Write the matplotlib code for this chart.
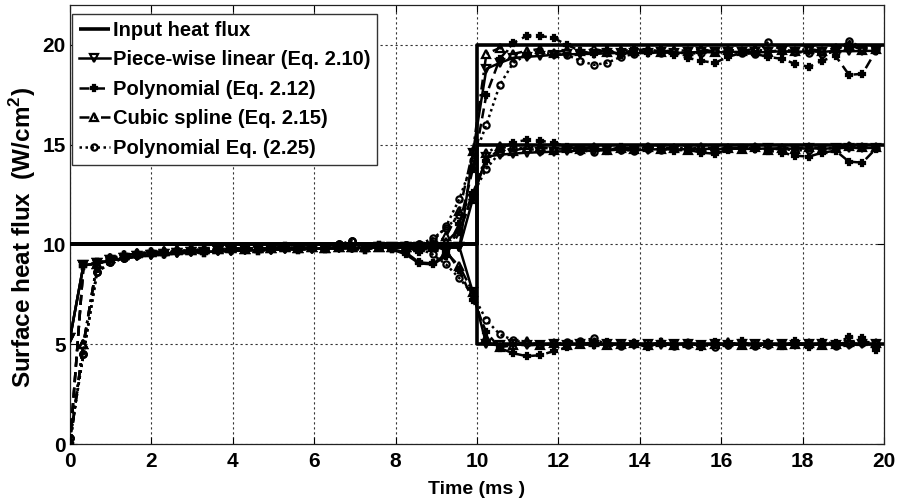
import numpy as np
import matplotlib
matplotlib.use("Agg")
import matplotlib.pyplot as plt

plt.rcParams["font.family"] = ["Liberation Sans", "DejaVu Sans"]
plt.rcParams["font.weight"] = "bold"
plt.rcParams["mathtext.fontset"] = "custom"
plt.rcParams["mathtext.rm"] = "Liberation Sans:bold"
plt.rcParams["mathtext.bf"] = "Liberation Sans:bold"

# Sampling grid of the estimates (ms); the first 25 samples are shared by all cases
t_ms = np.round(np.arange(61) * 0.33, 2)
n_shared = 25

# Imposed surface heat flux: 10 W/cm^2, then a step at 10 ms
step_time = 10.0
end_time = 20.0
base_flux = 10.0
step_levels = [5.0, 15.0, 20.0]

# Piece-wise linear (Eq. 2.10)
pwl_shared = [5.3, 8.95, 9.05, 9.2, 9.3, 9.4, 9.45, 9.5, 9.55, 9.6, 9.62, 9.65, 9.68,
              9.7, 9.72, 9.73, 9.75, 9.76, 9.78, 9.8, 9.8, 9.82, 9.83, 9.85, 9.85]
pwl_to5 = [9.85, 9.85, 9.85, 9.85, 9.85, 7.6, 5.0, 4.95, 5.0, 4.95, 4.97, 5.0, 4.98,
           5.0, 4.97, 5.0, 5.02, 4.98, 5.0, 4.97, 5.0, 5.02, 4.98, 5.0, 4.97, 5.0,
           5.0, 4.98, 5.0, 4.97, 5.0, 5.02, 4.98, 4.95, 5.0, 5.0]
pwl_to15 = [9.85, 9.85, 9.85, 9.85, 9.85, 12.3, 14.4, 14.5, 14.55, 14.6, 14.62, 14.65,
            14.68, 14.7, 14.7, 14.72, 14.75, 14.72, 14.75, 14.78, 14.75, 14.78, 14.8,
            14.78, 14.8, 14.8, 14.78, 14.82, 14.8, 14.8, 14.82, 14.8, 14.82, 14.85,
            14.82, 14.85]
pwl_to20 = [9.85, 9.85, 9.85, 9.85, 9.85, 14.6, 18.8, 19.1, 19.35, 19.4, 19.45, 19.5,
            19.52, 19.55, 19.55, 19.58, 19.6, 19.58, 19.6, 19.62, 19.6, 19.62, 19.65,
            19.62, 19.65, 19.65, 19.62, 19.65, 19.68, 19.65, 19.68, 19.65, 19.7,
            19.68, 19.7, 19.7]

# Polynomial (Eq. 2.12)
p212_shared = [0.0, 8.9, 9.1, 9.3, 9.45, 9.5, 9.6, 9.5, 9.65, 9.7, 9.55, 9.75, 9.7,
               9.85, 9.65, 9.8, 9.9, 9.7, 9.85, 9.75, 9.9, 9.8, 9.7, 9.95, 9.75]
p212_to5 = [9.9, 9.6, 9.95, 9.7, 8.7, 7.2, 5.6, 4.8, 4.55, 4.4, 4.45, 4.65, 4.85, 5.05,
            4.95, 5.1, 4.9, 5.05, 4.85, 5.1, 4.95, 5.05, 4.85, 5.1, 4.95, 5.15, 4.9,
            5.05, 4.9, 5.15, 4.85, 5.1, 5.05, 5.35, 5.3, 4.7]
p212_to15 = [9.6, 9.1, 9.05, 9.5, 10.6, 12.6, 14.2, 14.8, 15.1, 15.25, 15.2, 15.1, 14.9,
             14.75, 14.85, 14.7, 14.9, 14.75, 14.9, 14.8, 14.7, 14.75, 14.6, 14.55,
             14.75, 14.85, 14.8, 14.7, 14.6, 14.45, 14.4, 14.6, 14.7, 14.15, 14.1, 14.8]
p212_to20 = [9.5, 9.05, 9.0, 9.4, 11.0, 13.8, 17.5, 19.3, 20.1, 20.45, 20.45, 20.35,
             20.0, 19.7, 19.55, 19.75, 19.5, 19.8, 19.6, 19.75, 19.5, 19.35, 19.2, 19.1,
             19.4, 19.6, 19.55, 19.4, 19.3, 19.05, 18.9, 19.2, 19.45, 18.5, 18.55, 19.7]

# Cubic spline (Eq. 2.15)
cs_shared = [0.0, 5.0, 9.0, 9.3, 9.45, 9.55, 9.6, 9.65, 9.7, 9.7, 9.75, 9.75, 9.8,
             9.78, 9.82, 9.8, 9.85, 9.82, 9.85, 9.83, 9.87, 9.85, 9.87, 9.85, 9.88]
cs_to5 = [9.87, 9.88, 9.85, 9.6, 8.9, 7.6, 5.3, 4.85, 4.95, 5.15, 4.95, 5.05, 4.95, 5.0,
          5.1, 4.95, 5.0, 5.05, 4.95, 5.1, 4.95, 5.05, 4.97, 5.0, 5.1, 4.95, 5.0, 5.05,
          4.95, 5.0, 5.05, 4.97, 5.0, 5.1, 5.15, 5.05]
cs_to15 = [9.87, 9.88, 9.9, 10.1, 10.8, 12.3, 14.6, 14.95, 14.7, 14.85, 14.9, 14.75,
           14.85, 14.8, 14.9, 14.75, 14.85, 14.8, 14.9, 14.8, 14.85, 14.75, 14.9, 14.8,
           14.85, 14.8, 14.9, 14.75, 14.85, 14.8, 14.9, 14.8, 14.85, 14.95, 14.9, 14.9]
cs_to20 = [9.87, 9.88, 9.95, 10.4, 11.7, 14.7, 19.55, 19.85, 19.55, 19.7, 19.8, 19.6,
           19.75, 19.7, 19.8, 19.65, 19.75, 19.7, 19.8, 19.65, 19.75, 19.7, 19.8, 19.65,
           19.75, 19.7, 19.8, 19.65, 19.75, 19.7, 19.8, 19.7, 19.85, 20.0, 19.75, 19.8]

# Polynomial (Eq. 2.25)
p225_shared = [0.3, 4.5, 8.6, 9.1, 9.3, 9.45, 9.55, 9.6, 9.65, 9.7, 9.72, 9.75, 9.78,
               9.8, 9.82, 9.8, 9.85, 9.82, 9.9, 9.85, 10.0, 10.15, 9.9, 9.85, 9.9]
p225_to5 = [9.95, 9.8, 9.5, 9.0, 8.3, 7.5, 6.2, 5.5, 5.2, 5.05, 4.95, 5.0, 5.1, 5.15,
            5.3, 4.95, 4.9, 5.0, 4.95, 5.05, 4.9, 4.95, 5.0, 4.85, 4.95, 5.0, 4.9, 4.95,
            5.0, 5.05, 4.95, 5.0, 4.9, 5.0, 5.05, 5.0]
p225_to15 = [9.95, 10.0, 10.3, 10.8, 11.5, 12.5, 13.8, 14.6, 14.85, 14.8, 14.7, 14.75,
             14.8, 14.7, 14.65, 14.8, 14.75, 14.7, 14.8, 14.75, 14.85, 14.8, 14.7,
             14.75, 14.8, 14.85, 14.9, 14.75, 14.8, 14.7, 14.75, 14.8, 14.85, 14.95,
             14.9, 14.85]
p225_to20 = [9.95, 10.0, 10.15, 10.9, 12.3, 14.2, 16.0, 18.0, 19.1, 19.5, 19.6, 19.55,
             19.5, 19.2, 19.0, 19.1, 19.4, 19.55, 19.7, 19.6, 19.65, 19.55, 19.6, 19.7,
             19.65, 19.6, 19.55, 20.15, 19.7, 19.65, 19.6, 19.55, 19.65, 20.2, 19.85,
             19.8]

methods = [
    ("Piece-wise linear (Eq. 2.10)", pwl_shared, [pwl_to5, pwl_to15, pwl_to20],
     dict(linestyle="-", marker="v", markersize=5.5, markerfacecolor="none")),
    ("Polynomial (Eq. 2.12)", p212_shared, [p212_to5, p212_to15, p212_to20],
     dict(linestyle=(0, (4, 2.2)), marker="P", markersize=5, markerfacecolor="black")),
    ("Cubic spline (Eq. 2.15)", cs_shared, [cs_to5, cs_to15, cs_to20],
     dict(linestyle=(0, (4, 1.8, 1, 1.8)), marker="^", markersize=5.5, markerfacecolor="none")),
    ("Polynomial Eq. (2.25)", p225_shared, [p225_to5, p225_to15, p225_to20],
     dict(linestyle=(0, (1, 1.4)), marker="o", markersize=4.5, markerfacecolor="none")),
]

fig = plt.figure(figsize=(8.99, 5.0), dpi=100)
ax = fig.add_axes([70 / 899, 1 - 444 / 500, (884 - 70) / 899, (444 - 5) / 500])

for i, level in enumerate(step_levels):
    ax.plot([0, step_time, step_time, end_time], [base_flux, base_flux, level, level],
            color="black", linewidth=2.6, solid_capstyle="butt",
            label="Input heat flux" if i == 0 else "_nolegend_", zorder=3)

for name, shared, cases, style in methods:
    for i, tail in enumerate(cases):
        values = np.array(shared + tail)
        ax.plot(t_ms, values, color="black", linewidth=1.8, markeredgewidth=1.6,
                label=name if i == 0 else "_nolegend_", zorder=4, **style)

ax.set_xlim(0, 20)
ax.set_ylim(0, 22)
ax.set_xticks(np.arange(0, 21, 2))
ax.set_yticks([0, 5, 10, 15, 20])
ax.grid(True, color="#333333", linestyle=(0, (2, 2.5)), linewidth=0.8)
ax.set_axisbelow(True)
ax.tick_params(direction="in", top=True, right=True, labelsize=15, pad=5,
               length=5, width=0.8)
ax.tick_params(axis="x", pad=6)
ax.tick_params(axis="y", pad=3)
for lab in ax.get_xticklabels() + ax.get_yticklabels():
    lab.set_fontweight("bold")
for sp in ax.spines.values():
    sp.set_linewidth(0.9)
    sp.set_color("#222222")

ax.set_xlabel("Time (ms )", fontsize=14, fontweight="bold", labelpad=7)
ax.set_ylabel(r"Surface heat flux  (W/cm$^{2}$)", fontsize=17.5, fontweight="bold")
ax.yaxis.set_label_coords(-0.039, 0.47)

leg = ax.legend(loc="upper left", bbox_to_anchor=(0.002, 0.98),
                frameon=True, fancybox=False, edgecolor="#333333", framealpha=1,
                handlelength=1.55, handletextpad=0.15, labelspacing=0.52,
                borderpad=0.35, borderaxespad=0.0,
                prop={"weight": "bold", "size": 14.5})
leg.get_frame().set_linewidth(1.0)
leg.set_zorder(10)

fig.savefig("out.png", dpi=100)
